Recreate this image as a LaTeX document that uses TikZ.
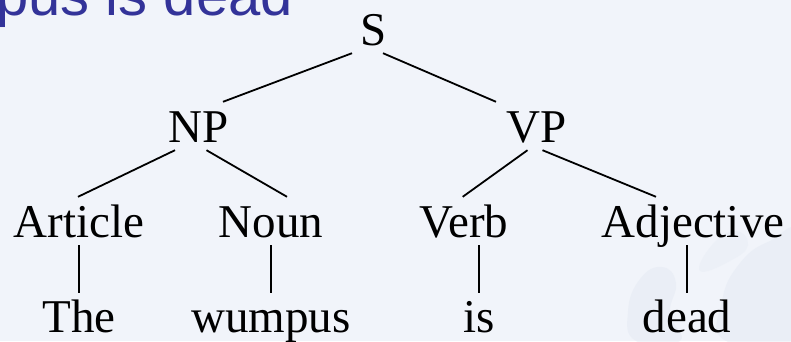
\documentclass[tikz,border=0pt]{standalone}
\usepackage{fontspec}
\setmainfont{Liberation Serif}
\newfontfamily\titlefont{Liberation Sans}
\definecolor{slidebg}{RGB}{241,244,250}
\definecolor{globeshade}{RGB}{226,232,242}
\definecolor{titleblue}{RGB}{51,51,153}
\begin{document}
\begin{tikzpicture}[x=1pt,y=1pt,
  cat/.style={anchor=base,inner xsep=0pt,inner ysep=8pt,
    text height=32pt,text depth=0pt,font=\fontsize{47}{50}\selectfont},
  leaf/.style={cat,inner ysep=0pt},
  branch/.style={line width=1.8pt,line cap=butt},
  heading/.style={anchor=base west,inner sep=0pt,text=titleblue,
    font=\titlefont\fontsize{58}{60}\selectfont}]
  \useasboundingbox (0,0) rectangle (791,341);
  \fill[slidebg] (0,0) rectangle (791,341);
  \begin{scope}
    \clip (0,0) rectangle (791,341);
    % faint globe watermark in the lower right corner
    \fill[globeshade,opacity=0.45] plot[smooth cycle,tension=0.8] coordinates
      {(636,0) (628,30) (640,62) (662,74) (676,58) (670,28) (680,0)};
    \fill[globeshade,opacity=0.45] plot[smooth cycle,tension=0.8] coordinates
      {(726,0) (722,40) (740,78) (770,100) (800,104) (800,0)};
    \fill[globeshade,opacity=0.3] plot[smooth cycle,tension=0.8] coordinates
      {(700,70) (712,96) (735,110) (748,96) (730,80)};
    % slide title, running off the top edge
    \node[heading] (title) at (-4,326) {pus is dead};
  \end{scope}

  % tree nodes
  \node[cat] (S)    at (374,296) {S};
  \node[cat] (NP)   at (198.5,199) {NP};
  \node[cat] (VP)   at (536.5,199) {VP};
  \node[cat] (Art)  at (79,104) {Article};
  \node[cat] (Noun) at (271,104) {Noun};
  \node[cat] (Verb) at (464,104) {Verb};
  \node[cat] (Adj)  at (693,104) {Adjective};
  \node[leaf] (The)  at (79,9) {The};
  \node[leaf] (Wum)  at (271,9) {wumpus};
  \node[leaf] (Is)   at (479,9) {is};
  \node[leaf] (Dead) at (687,9) {dead};

  % branches
  \draw[branch] ([xshift=-22pt]S.south)  -- ([xshift=24.5pt]NP.north);
  \draw[branch] ([xshift=9pt]S.south)    -- ([xshift=-40.5pt]VP.north);
  \draw[branch] ([xshift=-23.5pt]NP.south) -- ([xshift=-1pt]Art.north);
  \draw[branch] ([xshift=8pt]NP.south)   -- ([xshift=16pt]Noun.north);
  \draw[branch] ([xshift=-9pt]VP.south)  -- ([xshift=-1.3pt]Verb.north);
  \draw[branch] ([xshift=6pt]VP.south)   -- ([xshift=-37pt]Adj.north);
  % word links, straight down to each leaf
  \draw[branch] (Art.south) -- ([yshift=7pt]The.north);
  \draw[branch] (Noun.south) -- ([yshift=7pt]Wum.north);
  \draw[branch] ([xshift=15pt]Verb.south) -- ([yshift=7pt]Is.north);
  \draw[branch] ([xshift=-6pt]Adj.south) -- ([yshift=7pt]Dead.north);
\end{tikzpicture}
\end{document}
